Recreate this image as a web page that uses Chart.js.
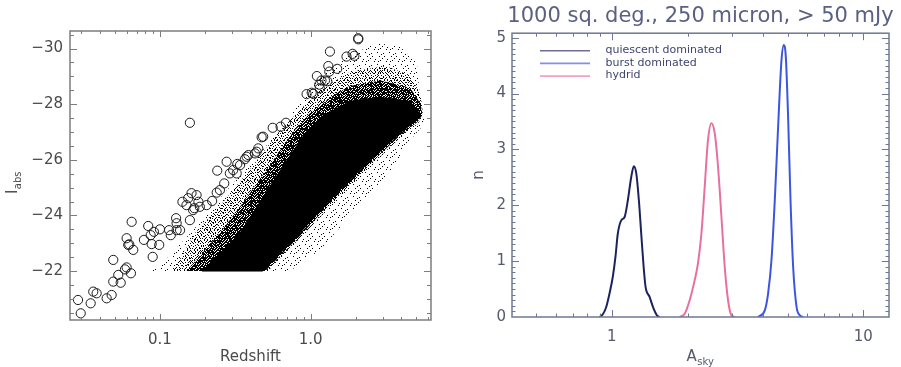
<!DOCTYPE html>
<html><head><meta charset="utf-8">
<script src="https://cdn.jsdelivr.net/npm/chart.js@4.4.1/dist/chart.umd.min.js"></script>
<style>
html,body{margin:0;padding:0;background:#fff;width:901px;height:367px;overflow:hidden}
#c1{position:absolute;left:0;top:0}
#c2{position:absolute;left:450px;top:0}
</style></head><body>
<canvas id="c1" width="450" height="367"></canvas>
<canvas id="c2" width="451" height="367"></canvas>
<script>
// ================= LEFT PANEL DATA =================
// Open circles (redshift, I_abs)
const qsoRedshift = [0.0286,0.0298,0.0347,0.0361,0.038,0.0443,0.0478,0.049,0.049,0.0529,0.0549,0.0586,0.0601,0.0642,0.0601,0.0616,0.0626,0.0665,0.0649,0.0783,0.0836,0.0868,0.0881,0.0895,0.0912,0.0989,0.100,0.115,0.118,0.128,0.129,0.129,0.136,0.141,0.150,0.154,0.158,0.162,0.166,0.169,0.175,0.180,0.184,0.204,0.222,0.238,0.250,0.240,0.267,0.277,0.291,0.306,0.323,0.326,0.340,0.366,0.376,0.386,0.427,0.438,0.449,0.473,0.484,0.560,0.632,0.686,0.158,0.940,1.016,1.04,1.10,1.14,1.15,1.18,1.245,1.29,1.31,1.33,1.343,1.50,1.73,1.90,1.95,2.07,2.07];
const qsoMag = [-20.96,-20.48,-20.84,-21.26,-21.20,-21.02,-21.14,-21.62,-22.40,-21.86,-21.58,-22.06,-22.13,-21.92,-23.18,-22.94,-22.96,-22.76,-23.77,-23.12,-23.62,-23.29,-22.97,-22.51,-23.41,-22.94,-23.50,-23.47,-23.29,-23.90,-23.72,-23.47,-23.47,-24.49,-24.37,-24.62,-23.83,-24.80,-24.19,-24.26,-24.73,-24.49,-24.31,-24.37,-24.52,-24.82,-24.91,-25.61,-25.15,-25.93,-25.51,-25.63,-25.51,-25.85,-25.81,-26.02,-26.11,-26.17,-26.23,-26.29,-26.41,-26.81,-26.83,-27.15,-27.19,-27.33,-27.33,-28.36,-28.41,-28.37,-29.01,-28.70,-28.57,-28.85,-28.85,-28.82,-29.37,-29.17,-29.89,-29.27,-29.71,-29.81,-29.74,-30.37,-30.33];

// Galaxy cloud density contours (redshift, I_abs)
const haloZ = [0.082,0.100,0.166,0.279,0.441,0.597,0.849,1.10,1.74,2.75,3.92,5.07,5.31,5.76,4.77,3.62,2.47,1.69,1.153,0.73,0.082];
const haloI = [-22,-22.18,-23.47,-24.91,-26.10,-26.96,-28.04,-28.87,-29.70,-30.20,-30.06,-29.48,-28.26,-27.32,-26.82,-25.81,-24.73,-23.76,-22.76,-22,-22];
const outerZ = [0.122,0.171,0.270,0.407,0.607,0.849,1.153,1.82,3.11,4.56,5.39,5.56,5.15,4.10,2.37,1.43,0.904,0.521,0.122];
const outerI = [-22,-23.37,-24.55,-25.74,-26.96,-27.79,-28.51,-29.16,-29.37,-29.05,-28.33,-27.61,-27.29,-26.89,-25.67,-24.48,-23.33,-22,-22];
const innerZ = [0.150,0.250,0.367,0.524,0.757,1.00,1.40,1.82,2.90,4.56,5.39,5.50,5.10,4.00,2.30,1.39,0.88,0.50,0.150];
const innerI = [-22,-23.37,-24.55,-25.74,-26.96,-27.70,-28.30,-28.65,-28.85,-28.60,-28.00,-27.60,-27.35,-26.92,-25.70,-24.52,-23.35,-22,-22];
const coreZ = [0.190,0.340,0.470,0.650,0.920,1.17,1.82,2.88,4.56,5.39,5.07,3.92,2.22,1.34,0.849,0.482,0.190];
const coreI = [-22,-23.37,-24.55,-25.74,-26.96,-27.54,-28.10,-28.25,-28.10,-27.61,-27.43,-26.96,-25.74,-24.55,-23.37,-22,-22];

const leftXTicks = [0.03,0.04,0.05,0.06,0.07,0.08,0.09,0.1,0.2,0.3,0.4,0.5,0.6,0.7,0.8,0.9,1,2,3,4,5,6];
const leftXMajor = [0.1,1];
const leftXLabels = ['0.1','1.0'];
const leftYTicks = [-30.5,-30,-29.5,-29,-28.5,-28,-27.5,-27,-26.5,-26,-25.5,-25,-24.5,-24,-23.5,-23,-22.5,-22,-21.5,-21,-20.5];
const leftYMajor = [-30,-28,-26,-24,-22];
const leftYLabels = ['\u221230','\u221228','\u221226','\u221224','\u221222'];

// ================= RIGHT PANEL DATA =================
const rightTitle = '1000 sq. deg., 250 micron, > 50 mJy';
const seriesNames = ['quiescent dominated','burst dominated','hydrid'];
const quiescentA = [0.893,0.921,0.950,0.979,1.009,1.034,1.056,1.090,1.124,1.158,1.195,1.223,1.251,1.281,1.309,1.338,1.362,1.413,1.466,1.511,1.549];
const quiescentN = [0,0.05,0.18,0.42,0.72,1.08,1.49,1.73,1.79,2.09,2.51,2.70,2.57,2.09,1.49,0.90,0.54,0.36,0.15,0.03,0];
const burstA = [3.817,4.059,4.183,4.315,4.448,4.585,4.730,4.831,4.920,5.025,5.137,5.262,5.429,5.595,5.768];
const burstN = [0,0.12,0.42,1.02,2.09,3.40,4.60,4.87,4.66,3.58,2.09,0.90,0.18,0.03,0];
const hybridA = [1.861,1.949,2.040,2.136,2.201,2.271,2.341,2.413,2.489,2.566,2.645,2.729,2.812,2.899,2.991,3.082];
const hybridN = [0,0.06,0.30,0.66,0.96,1.49,2.33,3.17,3.47,3.29,2.69,1.79,0.90,0.30,0.03,0];

const rightXTicks = [0.5,0.6,0.7,0.8,0.9,1,2,3,4,5,6,7,8,9,10];
const rightXMajor = [1,10];
const rightXLabels = ['1','10'];
const rightYTicks = [0,0.1,0.2,0.3,0.4,0.5,0.6,0.7,0.8,0.9,1,1.1,1.2,1.3,1.4,1.5,1.6,1.7,1.8,1.9,2,2.1,2.2,2.3,2.4,2.5,2.6,2.7,2.8,2.9,3,3.1,3.2,3.3,3.4,3.5,3.6,3.7,3.8,3.9,4,4.1,4.2,4.3,4.4,4.5,4.6,4.7,4.8,4.9,5];
const rightYMajor = [0,1,2,3,4,5];
const rightYLabels = ['0','1','2','3','4','5'];

// ================= HELPERS =================
const zip = (xs, ys) => xs.map((x, i) => ({x, y: ys[i]}));
const FONT = 'DejaVu Sans';

// texture tiles (style only): dots drawn, or holes cut from a full tile
function dotPattern(size, dots, color, holes) {
  const c = document.createElement('canvas');
  c.width = c.height = size;
  const g = c.getContext('2d');
  g.fillStyle = color;
  if (holes) { g.fillRect(0, 0, size, size); dots.forEach(([x, y]) => g.clearRect(x, y, 1, 1)); }
  else dots.forEach(([x, y]) => g.fillRect(x, y, 1, 1));
  return g.createPattern(c, 'repeat');
}
const haloDots = [[2,1],[8,0],[5,4],[11,5],[0,8],[7,8],[3,11],[10,10],[6,1],[9,6]];
const outerDots = [[0,0],[4,0],[7,0],[1,1],[2,2],[9,1],[5,2],[8,2],[0,3],[3,3],[7,4],[1,5],[5,5],[8,5],[3,6],[6,7],[9,7],[0,8],[2,8],[4,9],[7,9],[5,8]];
const innerHoles = [[1,0],[4,0],[6,0],[0,1],[3,1],[5,2],[7,2],[1,3],[2,3],[6,3],[0,4],[4,4],[3,5],[5,5],[7,5],[1,6],[6,6],[0,7],[2,7],[4,7],[7,7]];

function setTicks(values, majors) {
  return s => { s.ticks = values.map(v => ({value: v, major: majors.includes(v)})); };
}
function labelFor(majors, labels) {
  return v => { const k = majors.indexOf(v); return k >= 0 ? labels[k] : ''; };
}

const frameTicks = {
  id: 'frameTicks',
  afterDraw(chart, args, o) {
    const {ctx, chartArea: a} = chart;
    const xs = chart.scales.x, ys = chart.scales.y;
    ctx.save();
    ctx.strokeStyle = o.color;
    ctx.lineWidth = o.frameWidth;
    ctx.strokeRect(a.left, a.top, a.right - a.left, a.bottom - a.top);
    ctx.lineWidth = 1;
    ctx.beginPath();
    xs.ticks.forEach(t => {
      const p = Math.round(xs.getPixelForValue(t.value)) + 0.5;
      if (p <= a.left + 1 || p >= a.right - 1) return;
      const L = t.major ? o.xMajor : o.xMinor;
      ctx.moveTo(p, a.bottom); ctx.lineTo(p, a.bottom - L);
      ctx.moveTo(p, a.top); ctx.lineTo(p, a.top + L);
    });
    ys.ticks.forEach(t => {
      const p = Math.round(ys.getPixelForValue(t.value)) + 0.5;
      if (p <= a.top + 1 || p >= a.bottom - 1) return;
      const L = t.major ? o.yMajor : o.yMinor;
      ctx.moveTo(a.left, p); ctx.lineTo(a.left + L, p);
      ctx.moveTo(a.right, p); ctx.lineTo(a.right - L, p);
    });
    ctx.stroke();
    ctx.restore();
  }
};

const subTitles = {
  id: 'subTitles',
  afterDraw(chart, args, o) {
    const ctx = chart.ctx;
    (o.items || []).forEach(it => {
      ctx.save();
      ctx.translate(it.x, it.y);
      if (it.rotate) ctx.rotate(-Math.PI / 2);
      ctx.fillStyle = it.color;
      ctx.textBaseline = 'alphabetic';
      ctx.font = it.size + 'px "' + FONT + '"';
      const w1 = ctx.measureText(it.text).width;
      ctx.font = it.subSize + 'px "' + FONT + '"';
      const w2 = ctx.measureText(it.sub).width;
      const x0 = -(w1 + w2) / 2;
      const base = it.size * 0.36;
      ctx.font = it.size + 'px "' + FONT + '"';
      ctx.fillText(it.text, x0, base);
      ctx.font = it.subSize + 'px "' + FONT + '"';
      ctx.fillText(it.sub, x0 + w1 + 0.5, base + it.drop);
      ctx.restore();
    });
  }
};

const lineLegend = {
  id: 'lineLegend',
  afterDraw(chart, args, o) {
    const {ctx, chartArea: a} = chart;
    chart.data.datasets.forEach((ds, i) => {
      const y = a.top + o.top + i * o.spacing;
      const x = a.left + o.left;
      ctx.save();
      ctx.globalAlpha = o.lineAlpha;
      ctx.strokeStyle = ds.borderColor;
      ctx.lineWidth = o.lineWidth;
      ctx.beginPath(); ctx.moveTo(x, y); ctx.lineTo(x + o.length, y); ctx.stroke();
      ctx.globalAlpha = 1;
      ctx.fillStyle = o.color;
      ctx.font = o.fontSize + 'px "' + FONT + '"';
      ctx.textBaseline = 'middle';
      ctx.fillText(ds.label, x + o.length + o.gap, y - 0.5);
      ctx.restore();
    });
  }
};

const centerTitle = {
  id: 'centerTitle',
  afterLayout(chart) {
    const t = chart.titleBlock;
    if (!t) return;
    const a = chart.chartArea;
    const shift = (a.left + a.right) / 2 - (t.left + t.right) / 2;
    t.left += shift; t.right += shift;
  }
};

const cloudStyle = {showLine: true, fill: 'shape', borderColor: 'rgba(0,0,0,0)', borderWidth: 1, pointRadius: 0, tension: 0};

// ================= LEFT CHART =================
new Chart(document.getElementById('c1'), {
  type: 'scatter',
  data: {
    datasets: [
      {label: 'Objects', data: zip(qsoRedshift, qsoMag), showLine: false,
       pointRadius: 4.6, pointBorderWidth: 1, pointBorderColor: '#1a1a1a', pointBackgroundColor: 'rgba(0,0,0,0)'},
      Object.assign({}, cloudStyle, {label: 'Galaxies (core)', data: zip(coreZ, coreI), backgroundColor: '#000', borderColor: '#000'}),
      Object.assign({}, cloudStyle, {label: 'Galaxies (inner)', data: zip(innerZ, innerI), backgroundColor: dotPattern(8, innerHoles, '#000', true)}),
      Object.assign({}, cloudStyle, {label: 'Galaxies (outer)', data: zip(outerZ, outerI), backgroundColor: dotPattern(10, outerDots, '#000')}),
      Object.assign({}, cloudStyle, {label: 'Galaxies (halo)', data: zip(haloZ, haloI), backgroundColor: dotPattern(12, haloDots, '#000')})
    ]
  },
  options: {
    responsive: false, animation: false, devicePixelRatio: 1,
    layout: {padding: {left: 0, right: 19, top: 31, bottom: 0}},
    plugins: {
      legend: {display: false}, tooltip: {enabled: false},
      frameTicks: {color: '#7d7d7d', frameWidth: 1.5, xMajor: 6, xMinor: 3, yMajor: 7, yMinor: 4},
      subTitles: {items: [{text: 'I', sub: 'abs', x: 12, y: 183, rotate: true, size: 15, subSize: 10, drop: 4, color: '#4a4a4a'}]}
    },
    scales: {
      x: {type: 'logarithmic', min: 0.0253, max: 6.29,
          grid: {display: false, drawTicks: false}, border: {display: false},
          afterBuildTicks: setTicks(leftXTicks, leftXMajor),
          afterFit: s => { s.height = 47; },
          ticks: {autoSkip: false, maxRotation: 0, minRotation: 0, padding: 11, color: '#4a4a4a',
                  font: {family: FONT, size: 15}, callback: labelFor(leftXMajor, leftXLabels)},
          title: {display: true, text: 'Redshift', color: '#4a4a4a', font: {family: FONT, size: 15}, padding: {top: 0, bottom: 1}}},
      y: {type: 'linear', min: -30.63, max: -20.24, reverse: true,
          grid: {display: false, drawTicks: false}, border: {display: false},
          afterBuildTicks: setTicks(leftYTicks, leftYMajor),
          afterFit: s => { s.width = 70; },
          ticks: {autoSkip: false, padding: 7, color: '#4a4a4a',
                  font: {family: FONT, size: 15}, callback: labelFor(leftYMajor, leftYLabels)}}
    }
  },
  plugins: [frameTicks, subTitles]
});

// ================= RIGHT CHART =================
const lineStyle = {showLine: true, pointRadius: 0, borderWidth: 2, fill: false, cubicInterpolationMode: 'monotone'};
new Chart(document.getElementById('c2'), {
  type: 'scatter',
  data: {
    datasets: [
      Object.assign({label: seriesNames[0], data: zip(quiescentA, quiescentN), borderColor: '#1c2260'}, lineStyle),
      Object.assign({label: seriesNames[1], data: zip(burstA, burstN), borderColor: '#3d55de'}, lineStyle),
      Object.assign({label: seriesNames[2], data: zip(hybridA, hybridN), borderColor: '#e8709e'}, lineStyle)
    ]
  },
  options: {
    responsive: false, animation: false, devicePixelRatio: 1,
    layout: {padding: {left: 0, right: 12, top: 0, bottom: 0}},
    plugins: {
      legend: {display: false}, tooltip: {enabled: false},
      title: {display: true, text: rightTitle, color: '#5a6082',
              font: {family: FONT, size: 21, weight: 'normal'}, padding: {top: 4, bottom: 4}},
      frameTicks: {color: '#6e7894', frameWidth: 1.5, xMajor: 7, xMinor: 3.5, yMajor: 7, yMinor: 3.5},
      lineLegend: {left: 28, top: 17.5, spacing: 12.7, length: 50, gap: 15.5, lineWidth: 1.6, lineAlpha: 0.65,
                   color: '#3f4570', fontSize: 11},
      subTitles: {items: [{text: 'A', sub: 'sky', x: 250, y: 356, rotate: false, size: 15, subSize: 10, drop: 4, color: '#555a6e'}]}
    },
    scales: {
      x: {type: 'logarithmic', min: 0.4008, max: 12.66,
          grid: {display: false, drawTicks: false}, border: {display: false},
          afterBuildTicks: setTicks(rightXTicks, rightXMajor),
          afterFit: s => { s.height = 50; },
          ticks: {autoSkip: false, maxRotation: 0, minRotation: 0, padding: 11, color: '#555a6e',
                  font: {family: FONT, size: 15}, callback: labelFor(rightXMajor, rightXLabels)}},
      y: {type: 'linear', min: 0, max: 5.08,
          grid: {display: false, drawTicks: false}, border: {display: false},
          afterBuildTicks: setTicks(rightYTicks, rightYMajor),
          afterFit: s => { s.width = 62; },
          ticks: {autoSkip: false, padding: 6, color: '#555a6e',
                  font: {family: FONT, size: 15}, callback: labelFor(rightYMajor, rightYLabels)},
          title: {display: true, text: 'n', color: '#555a6e', font: {family: FONT, size: 15}, padding: {top: 20, bottom: 0}}}
    }
  },
  plugins: [frameTicks, lineLegend, subTitles, centerTitle]
});
</script>
</body></html>
